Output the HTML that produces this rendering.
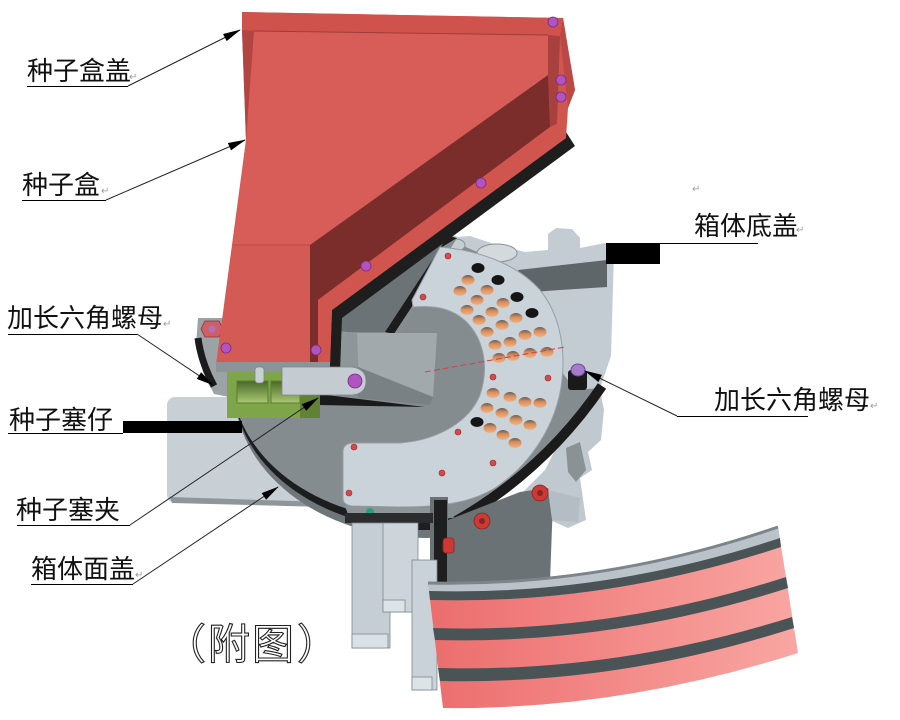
<!DOCTYPE html>
<html><head><meta charset="utf-8">
<style>
html,body{margin:0;padding:0;background:#fff;}
svg{display:block;}
text{font-family:"Liberation Sans","Noto Sans CJK SC",sans-serif;}
</style></head><body>
<svg width="900" height="720" viewBox="0 0 900 720" xmlns="http://www.w3.org/2000/svg">
<defs>
<marker id="ar" markerWidth="18" markerHeight="8" refX="17" refY="4" orient="auto" markerUnits="userSpaceOnUse"><path d="M0,0 L18,4 L0,8 Z" fill="#000"/></marker>
<linearGradient id="pk" x1="0" x2="1" y1="0" y2="0"><stop offset="0" stop-color="#ec6d6d"/><stop offset="1" stop-color="#f9a6a2"/></linearGradient>
<linearGradient id="gr" x1="0" x2="0" y1="0" y2="1"><stop offset="0" stop-color="#4a6828"/><stop offset="1" stop-color="#a9c872"/></linearGradient>
<linearGradient id="hole" x1="0" x2="0" y1="0" y2="1"><stop offset="0" stop-color="#5e5a58"/><stop offset="0.4" stop-color="#d88c5c"/><stop offset="1" stop-color="#f2b381"/></linearGradient>
<clipPath id="dc"><polygon points="0,0 598,0 598,386 602,386 571,426 537,462 498,493 456,521 456,720 0,720"/></clipPath>
</defs>
<rect width="900" height="720" fill="#fff"/>

<!-- left base plate -->
<rect x="167" y="397" width="160" height="106" rx="8" fill="#c8d0d6"/>
<path d="M170,497 L325,502 L325,507 L172,503 Z" fill="#8e969a"/>

<!-- left flange -->
<path d="M198,318 L234,318 L234,398 L214,394 L203,372 L196,345 Z" fill="#9ca3a7"/>
<path d="M198,338 Q201,362 214,386" stroke="#1b1b1b" stroke-width="7" fill="none"/>
<polygon points="205,321 219,321 223,329 219,337 205,337 201,329" fill="#cf5f66" stroke="#8a3038" stroke-width="0.8"/>
<circle cx="212" cy="329" r="3.5" fill="#b070c0"/>

<!-- lower right housing (behind) -->
<polygon points="565,392 600,390 604,410 601,440 588,452 592,470 580,478 586,520 568,528 550,520 520,495 545,470 560,440" fill="#c0c9cf"/>
<polygon points="566,448 580,442 586,470 576,482 568,472" fill="#8a9296"/>

<!-- disk layers -->
<g clip-path="url(#dc)">
<ellipse cx="426" cy="388" rx="192" ry="150" fill="#6f767a"/>
<ellipse cx="423" cy="383" rx="190" ry="146" fill="#1c1d1e"/>
<ellipse cx="420" cy="377" rx="188" ry="143" fill="#858c90"/>
</g>

<!-- right housing -->
<polygon points="445,238 470,236 500,246 525,252 548,250 548,234 556,228 572,229 580,238 580,248 605,243 614,252 611,356 600,388 575,390 562,372 545,330 525,290 500,262" fill="#c3ccd2"/>
<polygon points="518,270 607,260 607,287 560,290 532,292" fill="#5f666a"/>
<ellipse cx="497" cy="253" rx="20" ry="9" fill="#d3d9dd" stroke="#8a9195"/>
<ellipse cx="456" cy="245" rx="9" ry="6" fill="#c6cdd1" stroke="#8a9195"/>

<!-- black band -->
<path d="M602,386 Q545,470 456,521" stroke="#1b1b1b" stroke-width="10" fill="none"/>

<!-- regions between hopper and plate -->
<polygon points="330,312 440,232 448,236 385,332 330,332" fill="#6c7377"/>
<polygon points="385,332 448,236 457,238 394,334" fill="#1c1c1c"/>
<polygon points="394,334 457,238 442,247 412,300 413,312 400,336" fill="#878e92"/>

<!-- seed plate -->
<path d="M440,247 C475,250 515,262 540,290 C558,312 566,345 562,380 C557,425 530,465 495,488 C470,503 440,507 400,507 L352,506 Q343,505 343,498 L343,452 Q343,444 352,443 L400,443 C440,440 470,420 480,395 C490,365 483,335 462,318 C445,305 425,306 413,307 L412,300 Z" fill="#c9d3d9" stroke="#97a0a5" stroke-width="1"/>
<polygon points="345,506 440,508 436,521 350,520" fill="#8d9599"/>
<polygon points="350,520 436,521 432,530 356,530" fill="#1e1e1e"/>
<circle cx="370" cy="512" r="4" fill="#2aa07a"/>

<!-- spout inside -->
<polygon points="330,330 357,333 358,392 330,395" fill="#8f969a"/>
<polygon points="357,333 437,333 433,397 358,367" fill="#a2a9ad"/>
<polygon points="358,367 433,397 430,405 358,398" fill="#7a8185"/>
<polygon points="318,394 425,407 318,405" fill="#1a1a1a"/>

<!-- holes -->
<g fill="#151515">
<ellipse cx="478" cy="268" rx="6.5" ry="5"/><ellipse cx="498" cy="280" rx="6.5" ry="5"/>
<ellipse cx="517" cy="297" rx="6.5" ry="5"/><ellipse cx="532" cy="313" rx="6.5" ry="5"/>
<ellipse cx="477" cy="422" rx="6.5" ry="5"/>
</g>
<g fill="url(#hole)">
<ellipse cx="468" cy="280" rx="6.5" ry="5"/><ellipse cx="487" cy="290" rx="6.5" ry="5"/><ellipse cx="503" cy="303" rx="6.5" ry="5"/>
<ellipse cx="460" cy="291" rx="6.5" ry="5"/><ellipse cx="477" cy="300" rx="6.5" ry="5"/><ellipse cx="492" cy="312" rx="6.5" ry="5"/><ellipse cx="516" cy="318" rx="6.5" ry="5"/>
<ellipse cx="467" cy="310" rx="6.5" ry="5"/><ellipse cx="479" cy="320" rx="6.5" ry="5"/><ellipse cx="502" cy="325" rx="6.5" ry="5"/><ellipse cx="525" cy="335" rx="6.5" ry="5"/><ellipse cx="540" cy="332" rx="6.5" ry="5"/>
<ellipse cx="487" cy="332" rx="6.5" ry="5"/><ellipse cx="495" cy="345" rx="6.5" ry="5"/><ellipse cx="510" cy="342" rx="6.5" ry="5"/><ellipse cx="530" cy="353" rx="6.5" ry="5"/><ellipse cx="547" cy="352" rx="6.5" ry="5"/>
<ellipse cx="499" cy="358" rx="6.5" ry="5"/><ellipse cx="513" cy="356" rx="6.5" ry="5"/>
<ellipse cx="493" cy="393" rx="6.5" ry="5"/><ellipse cx="510" cy="397" rx="6.5" ry="5"/><ellipse cx="525" cy="402" rx="6.5" ry="5"/><ellipse cx="540" cy="403" rx="6.5" ry="5"/>
<ellipse cx="487" cy="408" rx="6.5" ry="5"/><ellipse cx="502" cy="413" rx="6.5" ry="5"/><ellipse cx="516" cy="420" rx="6.5" ry="5"/><ellipse cx="530" cy="425" rx="6.5" ry="5"/>
<ellipse cx="490" cy="428" rx="6.5" ry="5"/><ellipse cx="503" cy="435" rx="6.5" ry="5"/><ellipse cx="515" cy="443" rx="6.5" ry="5"/>
</g>
<line x1="425" y1="372" x2="565" y2="347" stroke="#d04040" stroke-width="1" stroke-dasharray="6 3"/>
<g fill="#d44a4a" stroke="#9b2a2a" stroke-width="0.6">
<circle cx="448" cy="256" r="3"/><circle cx="423" cy="297" r="3"/><circle cx="493" cy="377" r="3"/><circle cx="548" cy="378" r="3"/>
<circle cx="458" cy="432" r="3"/><circle cx="493" cy="463" r="3"/><circle cx="442" cy="473" r="3"/><circle cx="354" cy="447" r="3"/><circle cx="349" cy="493" r="3"/>
</g>

<!-- right nut -->
<rect x="568" y="370" width="19" height="20" rx="3" fill="#1a1a1a"/>
<ellipse cx="578" cy="370" rx="7" ry="6" fill="#a77ad0" stroke="#6e4a90"/>

<!-- hopper -->
<polygon points="566,132 575,146 342,318 340,372 326,372 326,305" fill="#1e1e1e"/>
<polygon points="242,12 563,18 575,90 568,108 566,138 332,310 330,365 216,365 232,245 246,140 242,30" fill="#d25650"/>
<polygon points="254,31 548,35 548,75 310,245 233,245 246,140" fill="#d85d58"/>
<polygon points="242,12 563,18 560,36 548,35 254,31 242,30" fill="#d0524d"/>
<line x1="254" y1="31" x2="548" y2="35" stroke="#9e3d3a" stroke-width="1"/>
<polygon points="242,30 254,31 246,140" fill="#b24541"/>
<polygon points="563,18 575,90 568,108 560,36" fill="#bb4844"/>
<polygon points="548,35 560,36 557,124 550,127 548,75" fill="#a8403d"/>
<polygon points="310,245 548,75 550,127 318,300 318,365 310,365" fill="#7a2d2b"/>
<polygon points="550,127 557,124 566,132 566,138 332,310 330,365 318,365 318,300" fill="#d1554f"/>
<polygon points="233,245 310,245 310,365 216,365" fill="#d45a55"/>
<line x1="233" y1="245" x2="310" y2="245" stroke="#b84a46" stroke-width="1"/>
<rect x="216" y="362" width="114" height="10" fill="#8d9498"/>

<!-- green block + arm -->
<polygon points="227,372 300,372 320,378 320,418 227,418" fill="#7fa54b"/>
<rect x="300" y="374" width="20" height="44" fill="#5f8234"/>
<rect x="237" y="381" width="31" height="22" fill="url(#gr)" stroke="#5d7d32"/>
<rect x="271" y="381" width="29" height="22" fill="url(#gr)" stroke="#5d7d32"/>
<rect x="255" y="367" width="9" height="16" rx="3" fill="#c9d0d4" stroke="#7d8589" stroke-width="0.8"/>
<path d="M282,367 L352,367 Q366,369 366,381 Q366,394 352,395 L282,395 Z" fill="#c4ccd1" stroke="#7f878c" stroke-width="0.8"/>

<!-- magenta bolts -->
<g fill="#b055c0" stroke="#7a2a86" stroke-width="0.8">
<circle cx="553" cy="22" r="5"/><circle cx="561" cy="80" r="5"/><circle cx="561" cy="97" r="5"/>
<circle cx="481" cy="183" r="5"/><circle cx="366" cy="266" r="5"/><circle cx="316" cy="350" r="5"/><circle cx="226" cy="348" r="5"/>
<circle cx="355" cy="381" r="7"/>
</g>

<!-- dark lower housing -->
<polygon points="430,497 448,497 448,520 520,492 548,488 553,500 550,582 430,585" fill="#6b7276"/>
<rect x="434" y="500" width="13" height="82" fill="#1e1e1e"/>
<polygon points="548,490 580,498 578,522 552,520" fill="#b4bdc3"/>
<g fill="#cc3a35" stroke="#8c2420" stroke-width="0.8">
<circle cx="540" cy="493" r="8"/><circle cx="482" cy="521" r="8"/>
<rect x="443" y="538" width="11" height="15" rx="3"/>
</g>
<g fill="#8c2420"><circle cx="540" cy="493" r="3"/><circle cx="482" cy="521" r="3"/></g>

<!-- chutes -->
<rect x="345" y="513" width="88" height="10" fill="#2a2c2d"/>
<rect x="352" y="523" width="38" height="125" fill="#c5ced4" stroke="#7f878c" stroke-width="0.8"/>
<rect x="352" y="634" width="36" height="14" fill="#d9e1e6" stroke="#7f878c" stroke-width="0.8"/>
<rect x="405" y="562" width="27" height="50" fill="#bfc8ce" stroke="#7f878c" stroke-width="0.8"/>
<rect x="383" y="523" width="35" height="89" fill="#cdd5db" stroke="#7f878c" stroke-width="0.8"/>
<rect x="383" y="600" width="22" height="12" fill="#dde4e8" stroke="#7f878c" stroke-width="0.8"/>
<rect x="412" y="560" width="25" height="130" fill="#c9d2d8" stroke="#7f878c" stroke-width="0.8"/>
<rect x="412" y="677" width="20" height="13" fill="#dde4e8" stroke="#7f878c" stroke-width="0.8"/>

<!-- belt -->
<path d="M428,583 Q603,587 778,527 L798,653 Q620,710 443,708 Z" fill="url(#pk)"/>
<path d="M428,583 Q603,587 778,527 L781,547 Q605,605 430,600 Z" fill="#bac3c9"/>
<path d="M428,583 Q603,587 778,527" stroke="#7d8589" stroke-width="3" fill="none"/>
<path d="M429,591 Q604,596 780,538 L781,547 Q605,605 430,600 Z" fill="#4a5457"/>
<path d="M433,628 Q609,634 786,577 L788,588 Q611,645 435,640 Z" fill="#4a5457"/>
<path d="M438,668 Q615,673 792,617 L794,628 Q617,685 440,681 Z" fill="#4a5457"/>

<!-- labels -->
<g fill="#111" font-size="26">
<text x="27" y="80">种子盒盖</text>
<text x="22" y="194">种子盒</text>
<text x="7" y="327">加长六角螺母</text>
<text x="9" y="429">种子塞仔</text>
<text x="16" y="519">种子塞夹</text>
<text x="31" y="578">箱体面盖</text>
<text x="694" y="235">箱体底盖</text>
<text x="714" y="409">加长六角螺母</text>
</g>
<g fill="#999" font-size="10">
<text x="129" y="80">↵</text><text x="101" y="194">↵</text><text x="163" y="327">↵</text>
<text x="135" y="578">↵</text><text x="796" y="233">↵</text><text x="870" y="409">↵</text>
<text x="692" y="192">↵</text>
</g>
<g font-size="42" fill="#fff" stroke="#222" stroke-width="1.1">
<text x="164" y="659">（</text>
<text x="208" y="659">附</text>
<text x="252" y="659">图</text>
<text x="297" y="659">）</text>
</g>

<g stroke="#000" stroke-width="1" fill="none">
<line x1="27" y1="86.5" x2="128" y2="86.5"/>
<line x1="22" y1="200.5" x2="106" y2="200.5"/>
<line x1="8" y1="334.5" x2="137" y2="334.5"/>
<line x1="8" y1="433.5" x2="123" y2="433.5"/>
<line x1="17" y1="525.5" x2="130" y2="525.5"/>
<line x1="31" y1="584.5" x2="133" y2="584.5"/>
<line x1="658" y1="243.5" x2="758" y2="243.5"/>
<line x1="677" y1="416.5" x2="808" y2="416.5"/>
</g>
<g stroke="#222" stroke-width="1" fill="none" marker-end="url(#ar)">
<line x1="128" y1="86" x2="240" y2="30"/>
<line x1="106" y1="200" x2="245" y2="140"/>
<line x1="137" y1="334" x2="213" y2="385"/>
<line x1="130" y1="525" x2="318" y2="398"/>
<line x1="133" y1="584" x2="278" y2="487"/>
<line x1="677" y1="416" x2="585" y2="371"/>
</g>
<rect x="123" y="421" width="119" height="12" fill="#000"/>
<rect x="606" y="243" width="54" height="21" fill="#000"/>
</svg>
</body></html>
